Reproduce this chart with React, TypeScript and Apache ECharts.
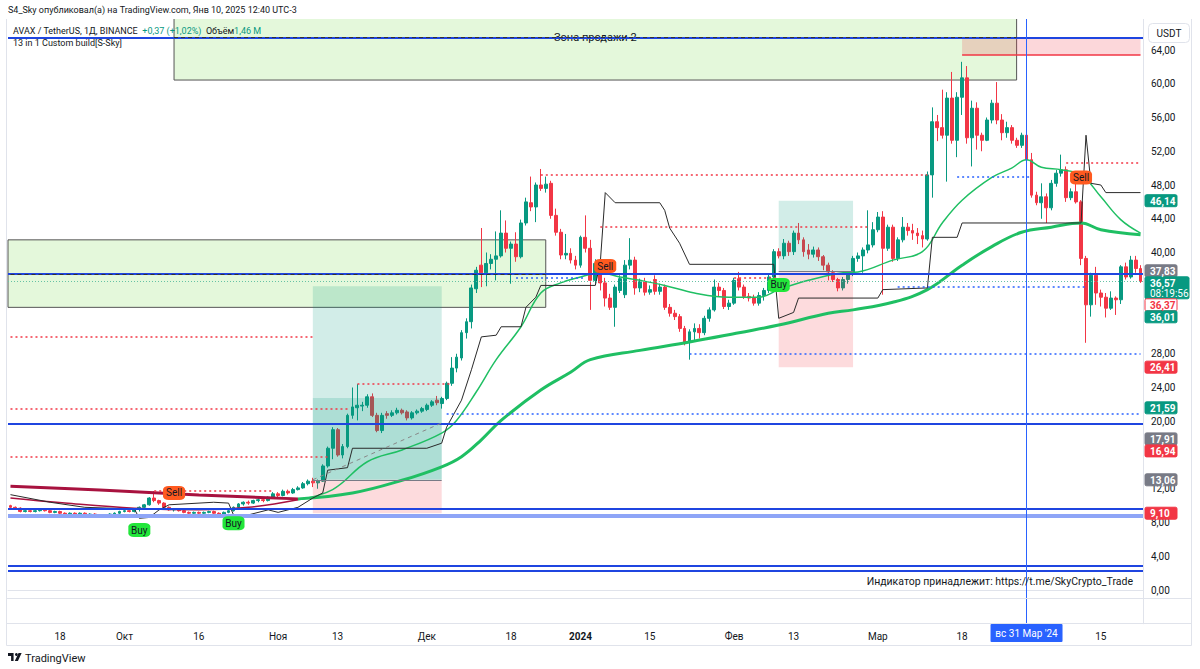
import React, { useEffect, useRef } from "react";
import * as echarts from "echarts";

// ---------- categories ----------
const START_UTC = Date.UTC(2023, 8, 8);
const DAY_COUNT = 229;
const dates: string[] = [];
for (let i = 0; i < DAY_COUNT; i++) dates.push(new Date(START_UTC + i * 86400000).toISOString().slice(0, 10));
const D = (i: number) => dates[i];

const tickLabels: Record<string, string> = {
  "2023-09-18": "18", "2023-10-01": "Окт", "2023-10-16": "16", "2023-11-01": "Ноя", "2023-11-13": "13",
  "2023-12-01": "Дек", "2023-12-18": "18", "2024-01-01": "2024", "2024-01-15": "15", "2024-02-01": "Фев",
  "2024-02-13": "13", "2024-03-01": "Мар", "2024-03-18": "18", "2024-04-15": "15",
};

// ---------- candles [open, close, low, high] ----------
const candles: number[][] = [
  [10.0, 9.8, 9.7, 10.1], [9.8, 9.7, 9.6, 9.9], [9.7, 9.3, 9.2, 9.8], [9.3, 9.4, 9.2, 9.5], [9.4, 9.3, 9.2, 9.5],
  [9.3, 9.4, 9.2, 9.6], [9.4, 9.5, 9.3, 9.6], [9.6, 9.4, 9.3, 9.7], [9.4, 9.2, 9.1, 9.5], [9.2, 9.3, 9.1, 9.4],
  [9.3, 9.1, 9.0, 9.4], [9.1, 9.0, 8.9, 9.2], [9.0, 9.1, 8.9, 9.2], [9.1, 9.0, 8.9, 9.2], [9.0, 9.1, 8.9, 9.2],
  [9.1, 8.9, 8.8, 9.2], [8.9, 9.0, 8.8, 9.1], [9.0, 8.9, 8.8, 9.1], [8.9, 8.8, 8.7, 9.0], [8.8, 8.9, 8.7, 9.0],
  [8.9, 9.0, 8.8, 9.1], [9.0, 9.1, 8.9, 9.2], [9.1, 9.3, 9.0, 9.4], [9.3, 9.4, 9.2, 9.5], [9.4, 9.3, 9.2, 9.5],
  [9.3, 9.6, 9.2, 9.7], [9.6, 9.8, 9.3, 9.9], [9.8, 10.1, 9.7, 10.2], [10.1, 10.9, 10.0, 11.0], [10.9, 10.6, 10.4, 11.7],
  [10.6, 10.3, 10.1, 10.7], [10.3, 9.8, 9.7, 10.4], [9.8, 9.5, 9.4, 9.9], [9.5, 9.6, 9.3, 9.7], [9.6, 9.4, 9.3, 9.7],
  [9.4, 9.2, 9.1, 9.5], [9.2, 9.1, 9.0, 9.3], [9.1, 9.2, 9.0, 9.3], [9.2, 9.1, 9.0, 9.3], [9.1, 9.2, 9.0, 9.3],
  [9.2, 9.3, 9.1, 9.4], [9.3, 9.1, 9.0, 9.4], [9.1, 9.0, 8.9, 9.2], [9.0, 9.2, 8.9, 9.3], [9.2, 9.4, 9.1, 9.5],
  [9.4, 9.8, 9.3, 9.9], [9.8, 10.2, 9.7, 10.3], [10.2, 10.4, 10.0, 10.5], [10.4, 10.3, 10.1, 10.6], [10.3, 10.6, 10.2, 10.7],
  [10.6, 10.7, 10.4, 10.9], [10.7, 10.6, 10.4, 10.8], [10.6, 11.0, 10.5, 11.1], [11.0, 11.4, 10.9, 11.6], [11.4, 11.2, 11.0, 11.6],
  [11.2, 11.7, 11.1, 11.9], [11.7, 11.5, 11.3, 11.9], [11.5, 11.9, 11.4, 12.1], [11.9, 12.1, 11.8, 12.3], [12.1, 12.6, 12.0, 12.8],
  [12.6, 12.9, 12.4, 13.1], [12.9, 12.7, 12.2, 13.3], [12.7, 12.9, 12.0, 13.1], [12.9, 14.7, 12.8, 14.9], [14.7, 16.8, 14.5, 17.0],
  [16.8, 19.0, 15.5, 19.3], [19.0, 16.0, 15.8, 19.2], [16.0, 17.0, 15.6, 17.3], [17.0, 20.7, 16.8, 20.9], [20.7, 21.7, 20.3, 24.0],
  [21.6, 21.9, 20.1, 24.4], [21.8, 21.9, 21.2, 22.3], [21.9, 22.9, 21.6, 23.2], [22.9, 20.7, 20.5, 23.3], [20.7, 18.9, 18.7, 21.0],
  [18.9, 20.7, 18.6, 21.0], [20.9, 20.7, 20.3, 21.2], [20.7, 21.0, 20.5, 21.3], [21.0, 21.3, 20.8, 21.6], [21.3, 21.0, 20.8, 21.5],
  [21.1, 20.4, 20.1, 21.3], [20.4, 21.0, 20.2, 21.2], [21.0, 21.2, 20.8, 21.4], [21.2, 21.5, 21.0, 21.7], [21.4, 21.9, 21.2, 22.1],
  [21.9, 22.3, 21.7, 22.5], [22.5, 22.2, 21.9, 23.0], [22.1, 22.7, 21.5, 22.9], [22.7, 24.5, 22.5, 24.7], [24.5, 26.3, 24.2, 27.6],
  [26.3, 27.6, 25.8, 28.0], [27.5, 30.5, 27.2, 30.8], [30.5, 31.8, 29.8, 32.2], [31.8, 35.8, 31.0, 36.2], [35.7, 37.9, 35.2, 38.3],
  [38.5, 37.6, 35.9, 42.9], [37.6, 38.7, 36.0, 40.0], [38.7, 39.2, 38.0, 39.8], [39.2, 39.6, 36.7, 42.5], [39.6, 42.3, 39.4, 45.0],
  [42.3, 40.5, 40.0, 43.8], [40.5, 41.0, 36.3, 41.3], [41.0, 39.5, 38.9, 42.4], [39.5, 43.5, 39.3, 43.9], [43.5, 46.0, 43.2, 46.5],
  [45.9, 45.4, 44.9, 49.0], [45.4, 48.0, 43.6, 48.3], [48.0, 47.6, 47.3, 49.9], [47.6, 48.1, 47.1, 49.0], [48.2, 44.4, 44.0, 48.5],
  [44.4, 42.4, 42.0, 45.2], [42.4, 39.7, 39.2, 42.8], [39.7, 39.9, 39.2, 42.2], [39.9, 39.1, 38.7, 40.5], [39.1, 38.5, 38.0, 39.6],
  [38.5, 41.8, 38.2, 42.0], [41.8, 40.5, 40.0, 44.4], [40.5, 36.7, 33.2, 41.5], [36.7, 38.7, 36.3, 39.2], [38.2, 36.4, 35.5, 38.9],
  [36.4, 34.6, 33.6, 37.0], [34.6, 33.5, 33.2, 35.1], [33.5, 35.9, 31.2, 36.2], [35.5, 36.9, 35.2, 37.3], [35.0, 38.5, 34.6, 39.1],
  [38.5, 39.1, 38.0, 41.7], [39.1, 35.8, 35.0, 39.5], [35.8, 36.5, 35.3, 36.9], [36.5, 35.3, 34.9, 37.0], [35.3, 35.6, 35.0, 36.1],
  [36.8, 35.4, 35.0, 37.3], [35.4, 35.9, 35.0, 36.3], [35.9, 33.5, 33.2, 36.2], [33.5, 32.8, 32.4, 33.9], [32.8, 32.4, 32.0, 33.2],
  [32.4, 31.0, 30.6, 32.7], [31.0, 29.4, 29.0, 31.3], [29.4, 30.6, 27.3, 30.9], [30.6, 31.0, 29.6, 31.6], [31.0, 30.5, 29.8, 31.5],
  [30.5, 32.2, 30.2, 32.5], [32.2, 33.2, 31.8, 33.5], [33.2, 35.9, 33.0, 36.8], [35.9, 35.5, 34.8, 36.4], [35.5, 33.6, 33.3, 35.8],
  [33.6, 34.0, 33.2, 34.4], [34.0, 36.7, 33.8, 37.0], [36.9, 35.9, 35.5, 37.7], [35.9, 34.8, 34.5, 36.2], [34.8, 34.6, 34.2, 35.2],
  [34.6, 34.0, 33.7, 35.0], [34.0, 34.9, 33.7, 35.3], [34.9, 35.5, 34.3, 35.8], [35.5, 37.1, 35.2, 37.4], [37.1, 40.1, 36.8, 40.4],
  [40.1, 39.6, 39.3, 40.5], [39.6, 41.1, 39.2, 41.6], [41.1, 40.1, 39.6, 41.4], [40.1, 42.3, 39.7, 42.6], [42.3, 41.5, 41.0, 43.5],
  [41.5, 40.1, 39.5, 41.8], [40.3, 39.8, 39.2, 41.0], [39.8, 40.3, 39.4, 40.7], [40.3, 39.5, 39.0, 40.6], [39.5, 38.5, 37.9, 39.7],
  [38.5, 37.7, 36.7, 38.8], [37.6, 36.8, 36.5, 37.9], [36.8, 35.8, 35.4, 37.0], [35.8, 36.8, 35.5, 37.1], [36.8, 37.5, 36.3, 37.8],
  [37.5, 39.3, 37.2, 39.6], [39.3, 39.6, 38.9, 40.0], [39.6, 40.3, 37.6, 40.6], [40.3, 40.9, 39.9, 45.0], [40.9, 42.7, 40.6, 43.6],
  [42.7, 44.2, 42.4, 44.8], [44.2, 40.5, 35.0, 44.9], [40.5, 43.0, 40.2, 43.3], [43.0, 39.3, 38.9, 43.3], [39.3, 41.5, 39.0, 41.8],
  [41.5, 43.0, 41.2, 44.2], [43.0, 42.6, 42.0, 43.5], [42.6, 42.3, 41.5, 43.4], [42.3, 42.0, 41.0, 42.9], [42.0, 41.6, 40.6, 42.6],
  [41.6, 49.2, 41.4, 49.6], [49.2, 55.5, 46.5, 57.2], [55.5, 54.8, 53.2, 56.3], [54.8, 53.9, 53.5, 59.3], [53.9, 58.3, 48.4, 59.0],
  [58.3, 53.3, 52.9, 61.4], [53.3, 58.4, 51.3, 59.0], [58.4, 60.7, 56.3, 62.6], [60.7, 53.6, 52.9, 62.1], [53.6, 57.1, 50.2, 58.0],
  [57.1, 53.9, 52.2, 57.8], [53.9, 53.3, 52.0, 54.2], [53.3, 55.7, 53.2, 56.0], [55.7, 57.7, 55.3, 58.1], [57.7, 55.7, 55.2, 60.2],
  [55.7, 54.2, 53.3, 56.4], [54.2, 54.8, 53.6, 55.5], [54.8, 53.3, 52.9, 55.1], [53.3, 52.7, 52.4, 53.6], [52.7, 53.9, 52.4, 54.2],
  [53.9, 51.0, 50.6, 54.1], [51.0, 46.8, 46.5, 51.8], [46.8, 45.9, 45.6, 47.2], [45.9, 46.6, 44.0, 48.2], [46.6, 45.3, 43.5, 47.0],
  [45.3, 48.2, 45.0, 48.6], [48.2, 49.4, 47.8, 49.8], [49.4, 49.8, 49.0, 51.6], [49.8, 46.5, 46.0, 50.2], [46.5, 47.2, 46.2, 47.6],
  [47.2, 46.0, 45.8, 48.2], [46.0, 39.3, 38.5, 46.2], [39.3, 33.8, 29.3, 39.6], [33.8, 37.3, 32.4, 37.6], [37.3, 35.2, 33.8, 38.3],
  [35.2, 34.7, 33.6, 35.6], [34.7, 33.4, 32.3, 35.2], [33.4, 34.6, 33.2, 35.4], [34.6, 34.4, 32.6, 34.8], [34.4, 38.3, 33.9, 38.5],
  [38.3, 37.1, 36.8, 38.8], [37.1, 39.1, 36.9, 39.6], [39.1, 38.1, 37.6, 39.6], [38.1, 36.57, 36.4, 38.5],
];

// ---------- indicator lines [dayIndex, price] ----------
const fastLine: number[][] = [
  [0, 10.9], [11, 10.3], [25, 9.7], [38, 9.5], [48, 9.8], [58, 10.7], [65, 11.9], [72, 15.2], [79, 16.6], [87, 18.6],
  [90, 20.1], [94, 23.5], [98, 27.3], [103, 31.2], [107, 35.2], [111, 36.4], [115, 37.1], [119, 37.6], [123, 37.1],
  [127, 36.7], [132, 36.1], [138, 35.2], [145, 34.7], [151, 34.7], [155, 35.6], [161, 36.7], [168, 37.6], [171, 37.7],
  [178, 39.1], [184, 40.1], [188, 43.5], [192, 46.2], [198, 48.9], [202, 50.0], [205, 51.0], [208, 50.1], [212, 49.8],
  [216, 49.2], [220, 46.6], [224, 43.9], [228, 42.3],
];
const slowLine: number[][] = [
  [0, 12.3], [18, 11.85], [38, 11.26], [58, 10.8], [69, 11.5], [79, 13.0], [87, 14.6], [91, 15.8], [95, 17.8],
  [99, 20.1], [107, 23.7], [113, 25.8], [117, 27.3], [127, 28.4], [137, 29.4], [147, 30.5], [155, 31.4], [165, 32.8],
  [170, 33.2], [178, 34.1], [185, 35.6], [192, 38.5], [198, 40.7], [204, 42.4], [210, 43.0], [216, 43.5], [220, 42.7],
  [228, 42.1],
];
const trendFlipDay = 58;
const stopLine: number[][] = [
  [0, 11.3], [8, 10.4], [15, 9.8], [25, 9.6], [26, 8.5], [28, 8.6], [30, 9.5], [32, 10.1], [41, 10.4], [44, 10.3],
  [45, 8.9], [48, 8.9], [52, 9.5], [54, 9.2], [58, 9.8], [61, 10.9], [63, 11.5], [64, 14.2], [68, 14.5], [69, 16.8],
  [84, 16.8], [87, 17.4], [88, 19.3], [91, 22.5], [93, 26.1], [95, 30.0], [98, 30.2], [99, 31.2], [103, 31.2],
  [104, 33.5], [106, 34.7], [107, 36.1], [118, 36.1], [119, 38.8], [120, 47.1], [122, 45.9], [131, 45.9], [132, 45.0],
  [133, 42.9], [135, 41.1], [137, 38.6], [154, 38.6], [155, 32.2], [158, 32.9], [159, 34.6], [175, 34.6], [176, 35.6],
  [185, 35.8], [186, 41.8], [191, 41.8], [192, 43.5], [216, 43.5], [217, 53.9], [218, 48.2], [220, 48.0], [221, 47.1],
  [228, 47.1],
];

// ---------- levels & segments [fromDay, toDay, price] ----------
const redDotted: number[][] = [
  [0, 61, 30.0], [0, 68, 21.45], [0, 64, 15.8], [29, 53, 11.75], [70, 89, 24.5], [107, 185, 49.2],
  [119, 173, 43.0], [146, 155, 37.0], [213, 228, 50.6],
];
const blueDotted: number[][] = [
  [88, 228, 20.9], [137, 228, 28.0], [179, 217, 35.9], [191, 206, 49.0], [102, 116, 37.0],
];
const blueLevels = [65.5, 37.45, 19.7, 9.6, 2.84, 2.25];
const paleBlueLevel = 8.77;
const lastPrice = 36.57;
const crosshairDay = 205;
const yTicks = [0, 4, 8, 12, 16, 20, 24, 28, 32, 36, 40, 44, 48, 52, 56, 60, 64];

const sellZone = { from: 33, to: 203, bottom: 60.44, name: "Зона продажи 2" };
const leftZone = { to: 108, top: 41.5, bottom: 33.5 };
const redZone = { from: 192, to: 228, top: 65.5, bottom: 63.4 };
const positionA = { from: 61, to: 87, target: 36.01, mid: 22.75, entry: 13.06, stop: 9.1 };
const positionB = { from: 155, to: 170, target: 46.14, entry: 37.83, stop: 26.41 };
const diagonal = [[61, 13.06], [87, 19.8]];

const signals = [
  { day: 33, price: 11.5, text: "Sell" }, { day: 120, price: 38.4, text: "Sell" }, { day: 216, price: 48.9, text: "Sell" },
  { day: 26, price: 7.1, text: "Buy" }, { day: 45, price: 7.9, text: "Buy" }, { day: 155, price: 36.15, text: "Buy" },
];

const priceTags = [
  { v: 46.14, bg: "#089981", fg: "#fff" }, { v: 37.83, bg: "#787b86", fg: "#fff" },
  { v: 36.57, bg: "#089981", fg: "#fff", sub: "08:19:56" }, { v: 36.37, bg: "#fff", fg: "#f23645", border: "#f23645" },
  { v: 36.01, bg: "#089981", fg: "#fff" }, { v: 26.41, bg: "#f23645", fg: "#fff" }, { v: 21.59, bg: "#089981", fg: "#fff" },
  { v: 17.91, bg: "#787b86", fg: "#fff" }, { v: 16.94, bg: "#f23645", fg: "#fff" }, { v: 13.06, bg: "#787b86", fg: "#fff" },
  { v: 9.1, bg: "#f23645", fg: "#fff" },
];

const FONT = 'Roboto, "Noto Sans", sans-serif';
const fmt = (v: number) => v.toFixed(2).replace(".", ",");

function sparse(points: number[][], from = 0, to = DAY_COUNT - 1) {
  const arr: (number | null)[] = new Array(DAY_COUNT).fill(null);
  points.forEach(([d, v]) => { if (d >= from && d <= to) arr[d] = v; });
  return arr;
}
const seg = (a: number, b: number, v: number, lineStyle: any) => [
  { coord: [D(a), v], lineStyle }, { coord: [D(b), v] },
];

echarts.graphic.registerShape(
  "tvlogo",
  echarts.graphic.extendPath("M0 0H9V11H5V4H0Z M17 0H22L16 11H11Z", {}) as any
);

export default function App() {
  const ref = useRef<HTMLDivElement>(null);
  useEffect(() => {
    if (!ref.current) return;
    const chart = echarts.init(ref.current, null, { renderer: "svg" });
    const empty = dates.map(() => null);
    const redDot = { color: "#f23645", width: 1.5, type: [2, 3] };
    const blueDot = { color: "#2962ff", width: 1.5, type: [2, 3] };

    const option: any = {
      animation: false,
      textStyle: { fontFamily: FONT },
      grid: { left: 8, right: 57, top: 16.25, bottom: 45.25 },
      xAxis: {
        type: "category",
        data: dates,
        boundaryGap: true,
        axisTick: { show: false },
        axisLine: { lineStyle: { color: "#e0e3eb" } },
        splitLine: { show: false },
        axisLabel: {
          interval: (_i: number, v: string) => tickLabels[v] != null,
          formatter: (v: string) => (v === "2024-01-01" ? "{b|2024}" : tickLabels[v] || ""),
          rich: { b: { fontWeight: "bold", fontSize: 10, color: "#131722" } },
          color: "#131722",
          fontSize: 10,
          margin: 8,
        },
      },
      yAxis: {
        type: "value",
        position: "right",
        min: -4,
        max: 68,
        interval: 4,
        splitLine: { show: false },
        axisLine: { show: true, lineStyle: { color: "#e0e3eb" } },
        axisTick: { show: false },
        axisLabel: { show: false },
      },
      series: [
        {
          name: "zones",
          type: "line",
          data: empty,
          z: 1,
          silent: true,
          markArea: {
            silent: true,
            z: 1,
            label: { show: false },
            data: [
              [
                {
                  name: sellZone.name, xAxis: D(sellZone.from), yAxis: sellZone.bottom,
                  itemStyle: { color: "rgba(185,236,160,0.38)", borderColor: "#555", borderWidth: 1 },
                  label: { show: true, position: "insideTop", distance: 16, color: "#131722", fontSize: 11 },
                },
                { xAxis: D(sellZone.to) },
              ],
              [
                { yAxis: leftZone.top, itemStyle: { color: "rgba(185,236,160,0.38)", borderColor: "#555", borderWidth: 1 } },
                { xAxis: D(leftZone.to), yAxis: leftZone.bottom },
              ],
            ],
          },
        },
        {
          name: "AVAX",
          type: "candlestick",
          data: candles,
          z: 2,
          barWidth: "68%",
          itemStyle: { color: "#089981", color0: "#f23645", borderColor: "#089981", borderColor0: "#f23645", borderWidth: 1 },
          markPoint: {
            silent: true,
            z: 6,
            data: signals.map((s) => ({
              coord: [D(s.day), s.price],
              symbol: "roundRect",
              symbolSize: [22, 14],
              itemStyle: { color: s.text === "Sell" ? "#ff5a1f" : "#22e63a" },
              label: { show: true, position: "inside", formatter: s.text, color: "#131722", fontSize: 10 },
            })),
          },
        },
        {
          name: "positions",
          type: "line",
          data: empty,
          z: 3,
          silent: true,
          markArea: {
            silent: true,
            z: 3,
            label: { show: false },
            data: [
              [{ xAxis: D(positionA.from), yAxis: positionA.target, itemStyle: { color: "rgba(8,153,129,0.18)" } }, { xAxis: D(positionA.to), yAxis: positionA.entry }],
              [{ xAxis: D(positionA.from), yAxis: positionA.mid, itemStyle: { color: "rgba(8,153,129,0.18)" } }, { xAxis: D(positionA.to), yAxis: positionA.entry }],
              [{ xAxis: D(positionA.from), yAxis: positionA.entry, itemStyle: { color: "rgba(242,54,69,0.18)" } }, { xAxis: D(positionA.to), yAxis: positionA.stop }],
              [{ xAxis: D(positionB.from), yAxis: positionB.target, itemStyle: { color: "rgba(8,153,129,0.18)" } }, { xAxis: D(positionB.to), yAxis: positionB.entry }],
              [{ xAxis: D(positionB.from), yAxis: positionB.entry, itemStyle: { color: "rgba(242,54,69,0.18)" } }, { xAxis: D(positionB.to), yAxis: positionB.stop }],
              [{ xAxis: D(redZone.from), yAxis: redZone.top, itemStyle: { color: "rgba(242,54,69,0.2)" } }, { xAxis: D(redZone.to), yAxis: redZone.bottom }],
            ],
          },
        },
        {
          name: "fastDown", type: "line", data: sparse(fastLine, 0, trendFlipDay), connectNulls: true, smooth: 0.4,
          symbol: "none", z: 4, silent: true, lineStyle: { color: "#a8123f", width: 1.5 },
        },
        {
          name: "fastUp", type: "line", data: sparse(fastLine, trendFlipDay), connectNulls: true, smooth: 0.4,
          symbol: "none", z: 4, silent: true, lineStyle: { color: "#1fbf63", width: 1.5 },
        },
        {
          name: "slowDown", type: "line", data: sparse(slowLine, 0, trendFlipDay), connectNulls: true, smooth: 0.4,
          symbol: "none", z: 4, silent: true, lineStyle: { color: "#a8123f", width: 3 },
        },
        {
          name: "slowUp", type: "line", data: sparse(slowLine, trendFlipDay), connectNulls: true, smooth: 0.4,
          symbol: "none", z: 4, silent: true, lineStyle: { color: "#1fbf63", width: 3 },
        },
        {
          name: "stop", type: "line", data: sparse(stopLine), connectNulls: true, smooth: false,
          symbol: "none", z: 4, silent: true, lineStyle: { color: "#2a2a2a", width: 1 },
        },
        {
          name: "levels",
          type: "line",
          data: empty,
          z: 5,
          silent: true,
          markLine: {
            silent: true,
            z: 5,
            symbol: ["none", "none"],
            label: { show: false },
            emphasis: { disabled: true },
            data: [
              { yAxis: lastPrice, lineStyle: { color: "#66c2a5", width: 1, type: [1, 2] } },
              ...redDotted.map(([a, b, v]) => seg(a, b, v, redDot)),
              ...blueDotted.map(([a, b, v]) => seg(a, b, v, blueDot)),
              { yAxis: paleBlueLevel, lineStyle: { color: "#8ea5f7", width: 4, type: "solid" } },
              ...blueLevels.map((v) => ({ yAxis: v, lineStyle: { color: "#1f45e0", width: 2, type: "solid" } })),
              seg(sellZone.from, sellZone.to, blueLevels[0], { color: "#333", width: 1, type: [4, 3] }),
              seg(0, leftZone.to, blueLevels[1], { color: "#333", width: 1, type: [4, 3] }),
              seg(redZone.from, redZone.to, redZone.bottom, { color: "#f23645", width: 1.5, type: "solid" }),
              seg(positionA.from, positionA.to, positionA.entry, { color: "#787b86", width: 1, type: "solid" }),
              seg(positionB.from, positionB.to, positionB.entry, { color: "#787b86", width: 1, type: "solid" }),
              [
                { coord: [D(diagonal[0][0]), diagonal[0][1]], lineStyle: { color: "#888", width: 1, type: [4, 4] } },
                { coord: [D(diagonal[1][0]), diagonal[1][1]] },
              ],
              { xAxis: D(crosshairDay), lineStyle: { color: "#2962ff", width: 1, type: "solid" } },
            ],
          },
        },
      ],
    };
    chart.setOption(option);

    const yPx = (v: number) => chart.convertToPixel({ yAxisIndex: 0 } as any, v) as number;
    const xPx = (i: number) => chart.convertToPixel({ xAxisIndex: 0 } as any, D(i)) as number;
    const border = "#e0e3eb";
    const g: any[] = [];
    // covers outside the pane
    g.push({ type: "rect", z: 50, shape: { x: 0, y: 0, width: 1200, height: 19 }, style: { fill: "#fff" } });
    g.push({ type: "rect", z: 50, shape: { x: 0, y: 0, width: 7, height: 669 }, style: { fill: "#fff" } });
    g.push({ type: "rect", z: 50, shape: { x: 1144, y: 0, width: 56, height: 669 }, style: { fill: "#fff" } });
    g.push({ type: "rect", z: 50, shape: { x: 0, y: 646, width: 1200, height: 23 }, style: { fill: "#fff" } });
    const line = (x1: number, y1: number, x2: number, y2: number, color = border) =>
      g.push({ type: "line", z: 51, shape: { x1, y1, x2, y2 }, style: { stroke: color, lineWidth: 1 } });
    line(6.5, 19, 6.5, 645.5);
    line(1191.5, 19, 1191.5, 645.5);
    line(6.5, 645.5, 1191.5, 645.5);
    line(6.5, 598.5, 1191.5, 598.5);
    line(6.5, 623.5, 1191.5, 623.5);
    line(1143.5, 19, 1143.5, 623.5);
    // header texts
    g.push({ type: "text", z: 52, x: 8, y: 10, style: { text: "S4_Sky опубликовал(а) на TradingView.com, Янв 10, 2025 12:40 UTC-3", fill: "#131722", font: `9px ${FONT}`, verticalAlign: "middle" } });
    g.push({
      type: "text", z: 52, x: 13, y: 31,
      style: {
        text: "AVAX / TetherUS, 1Д, BINANCE  {g|+0,37 (+1,02%)}  Объём{g|1,46 M}",
        fill: "#131722", font: `9px ${FONT}`, verticalAlign: "middle",
        rich: { g: { fill: "#089981", font: `9px ${FONT}` } },
      },
    });
    g.push({ type: "text", z: 52, x: 13, y: 43, style: { text: "13 in 1 Custom build[S-Sky]", fill: "#131722", font: `9px ${FONT}`, verticalAlign: "middle" } });
    // USDT box
    g.push({ type: "rect", z: 52, shape: { x: 1148.5, y: 23.5, width: 41, height: 19, r: 4 }, style: { fill: "#fff", stroke: border, lineWidth: 1 } });
    g.push({ type: "text", z: 53, x: 1169, y: 33, style: { text: "USDT", fill: "#131722", font: `10px ${FONT}`, align: "center", verticalAlign: "middle" } });

    // price tags with overlap avoidance
    const tagsSorted = priceTags.map((t) => ({ ...t, y: yPx(t.v) })).sort((a, b) => a.y - b.y);
    let prevBottom = -Infinity;
    const tagBoxes: number[][] = [];
    tagsSorted.forEach((t: any) => {
      const h = t.sub ? 22 : 12;
      let top = t.y - 6;
      if (top < prevBottom) top = prevBottom;
      prevBottom = top + h;
      tagBoxes.push([top, top + h]);
      const w = t.sub ? 44 : 32;
      g.push({ type: "rect", z: 60, shape: { x: 1145, y: top, width: w, height: h, r: 1.5 }, style: { fill: t.bg, stroke: t.border || t.bg, lineWidth: 1 } });
      g.push({ type: "text", z: 61, x: 1150, y: top + 6.5, style: { text: fmt(t.v), fill: t.fg, font: `bold 10px ${FONT}`, verticalAlign: "middle" } });
      if (t.sub) g.push({ type: "text", z: 61, x: 1150, y: top + 16.5, style: { text: t.sub, fill: t.fg, font: `10px ${FONT}`, verticalAlign: "middle" } });
    });
    // y tick labels, skipped where a tag hides them
    yTicks.forEach((v) => {
      const y = yPx(v);
      if (tagBoxes.some(([a, b]) => y > a - 1 && y < b + 1)) return;
      g.push({ type: "text", z: 52, x: 1151, y, style: { text: fmt(v), fill: "#131722", font: `10px ${FONT}`, verticalAlign: "middle" } });
    });
    // crosshair date label
    const cx = xPx(crosshairDay);
    g.push({ type: "rect", z: 60, shape: { x: cx - 36, y: 624, width: 72, height: 18, r: 1 }, style: { fill: "#2962ff" } });
    g.push({ type: "text", z: 61, x: cx, y: 633, style: { text: "вс 31 Мар '24", fill: "#fff", font: `10px ${FONT}`, align: "center", verticalAlign: "middle" } });
    // indicator owner text
    g.push({ type: "text", z: 52, x: 1133, y: 581, style: { text: "Индикатор принадлежит: https://t.me/SkyCrypto_Trade", fill: "#131722", font: `10.5px ${FONT}`, align: "right", verticalAlign: "middle" } });
    // TradingView logo
    g.push({ type: "tvlogo", z: 52, x: 8, y: 653, scaleX: 0.62, scaleY: 0.72, style: { fill: "#131722" } });
    g.push({ type: "circle", z: 52, shape: { cx: 16.4, cy: 654.5, r: 1.4 }, style: { fill: "#131722" } });
    g.push({ type: "text", z: 52, x: 25, y: 658, style: { text: "TradingView", fill: "#131722", font: `11px ${FONT}`, verticalAlign: "middle" } });

    chart.setOption({ graphic: g });
    return () => chart.dispose();
  }, []);

  return (
    <div
      ref={ref}
      style={{ position: "fixed", left: 0, top: 0, width: 1200, height: 669, background: "#fff" }}
    />
  );
}
